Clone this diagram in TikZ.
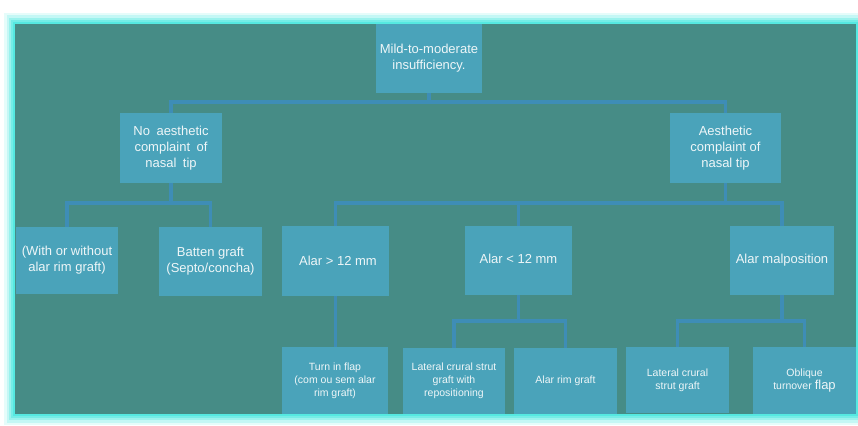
\documentclass[tikz,border=0pt]{standalone}
\usepackage{fontspec}
\setmainfont{Liberation Sans}
\definecolor{bgc}{HTML}{468C86}
\definecolor{boxc}{HTML}{4AA3BA}
\definecolor{linec}{HTML}{3E8DB6}
\definecolor{glowc}{HTML}{4FE8E0}
\definecolor{txtc}{HTML}{EEF6F8}
\tikzset{
  box/.style={fill=boxc, text=txtc, inner sep=1pt, align=center, font=\fontsize{13}{16}\selectfont},
  smallbox/.style={box, font=\fontsize{10.5}{12.8}\selectfont},
  conn/.style={draw=linec, line width=3.6pt}
}
\begin{document}
\begin{tikzpicture}[x=1pt,y=-1pt]
\useasboundingbox (0,0) rectangle (858,425);
% glow frame
\foreach \w/\o in {22/0.15,17/0.22,12/0.35,8/0.5,4/0.85}{
  \draw[glowc, line width=\w pt, opacity=\o] (15,24) rectangle (856,414);
}
\fill[bgc] (15,24) rectangle (856,414);
% nodes
\node[box, minimum width=106pt, minimum height=69pt] (root) at (429,58.5) {Mild-to-moderate\\insufficiency.};
\node[box, minimum width=102pt, minimum height=70pt] (noaes) at (171,148) {No\hspace{0.5em}aesthetic\\complaint\hspace{0.5em}of\\nasal\hspace{0.5em}tip};
\node[box, minimum width=111pt, minimum height=70pt] (aes) at (725.5,148) {Aesthetic\\complaint of\\nasal tip};
\node[box, minimum width=102pt, minimum height=67pt] (with) at (67,260.5) {(With or without\\alar rim graft)};
\node[box, minimum width=103pt, minimum height=69pt] (batten) at (210.5,261.5) {Batten graft\\(Septo/concha)};
\node[box, minimum width=107pt, minimum height=70pt] (agt) at (335.5,261) {\hspace{5pt}Alar {>} 12 mm};
\node[box, minimum width=107pt, minimum height=69pt] (alt) at (518.5,260.5) {\raisebox{3pt}{Alar {<} 12 mm}};
\node[box, minimum width=104pt, minimum height=69pt] (malp) at (782,260.5) {\raisebox{3pt}{Alar malposition}};
\node[smallbox, minimum width=106pt, minimum height=67pt] (turn) at (335,380.5) {Turn in flap\\(com ou sem alar\\rim graft)};
\node[smallbox, minimum width=102pt, minimum height=66pt] (lcsr) at (454,381) {Lateral crural strut\\graft with\\repositioning};
\node[smallbox, minimum width=103pt, minimum height=66pt] (arg) at (565.5,381) {Alar rim graft};
\node[smallbox, minimum width=103pt, minimum height=66pt] (lcs) at (677.5,380) {Lateral crural\\strut graft};
\node[smallbox, minimum width=103pt, minimum height=67pt] (obl) at (804.5,380.5) {Oblique\\turnover {\fontsize{13}{13}\selectfont flap}};
% connectors
\draw[conn] (root.south) -- ++(0,9) -| (noaes.north);
\draw[conn] (root.south) -- ++(0,9) -| (aes.north);
\draw[conn] (noaes.south) -- ++(0,20) -| (with.north);
\draw[conn] (noaes.south) -- ++(0,20) -| (batten.north);
\draw[conn] (aes.south) -- ++(0,20) -| (agt.north);
\draw[conn] (aes.south) -- ++(0,20) -| (alt.north);
\draw[conn] (aes.south) -- ++(0,20) -| (malp.north);
\draw[conn] (agt.south) -- (agt.south |- turn.north);
\draw[conn] (alt.south) -- ++(0,26) -| (lcsr.north);
\draw[conn] (alt.south) -- ++(0,26) -| (arg.north);
\draw[conn] (malp.south) -- ++(0,26) -| (lcs.north);
\draw[conn] (malp.south) -- ++(0,26) -| (obl.north);
\end{tikzpicture}
\end{document}
